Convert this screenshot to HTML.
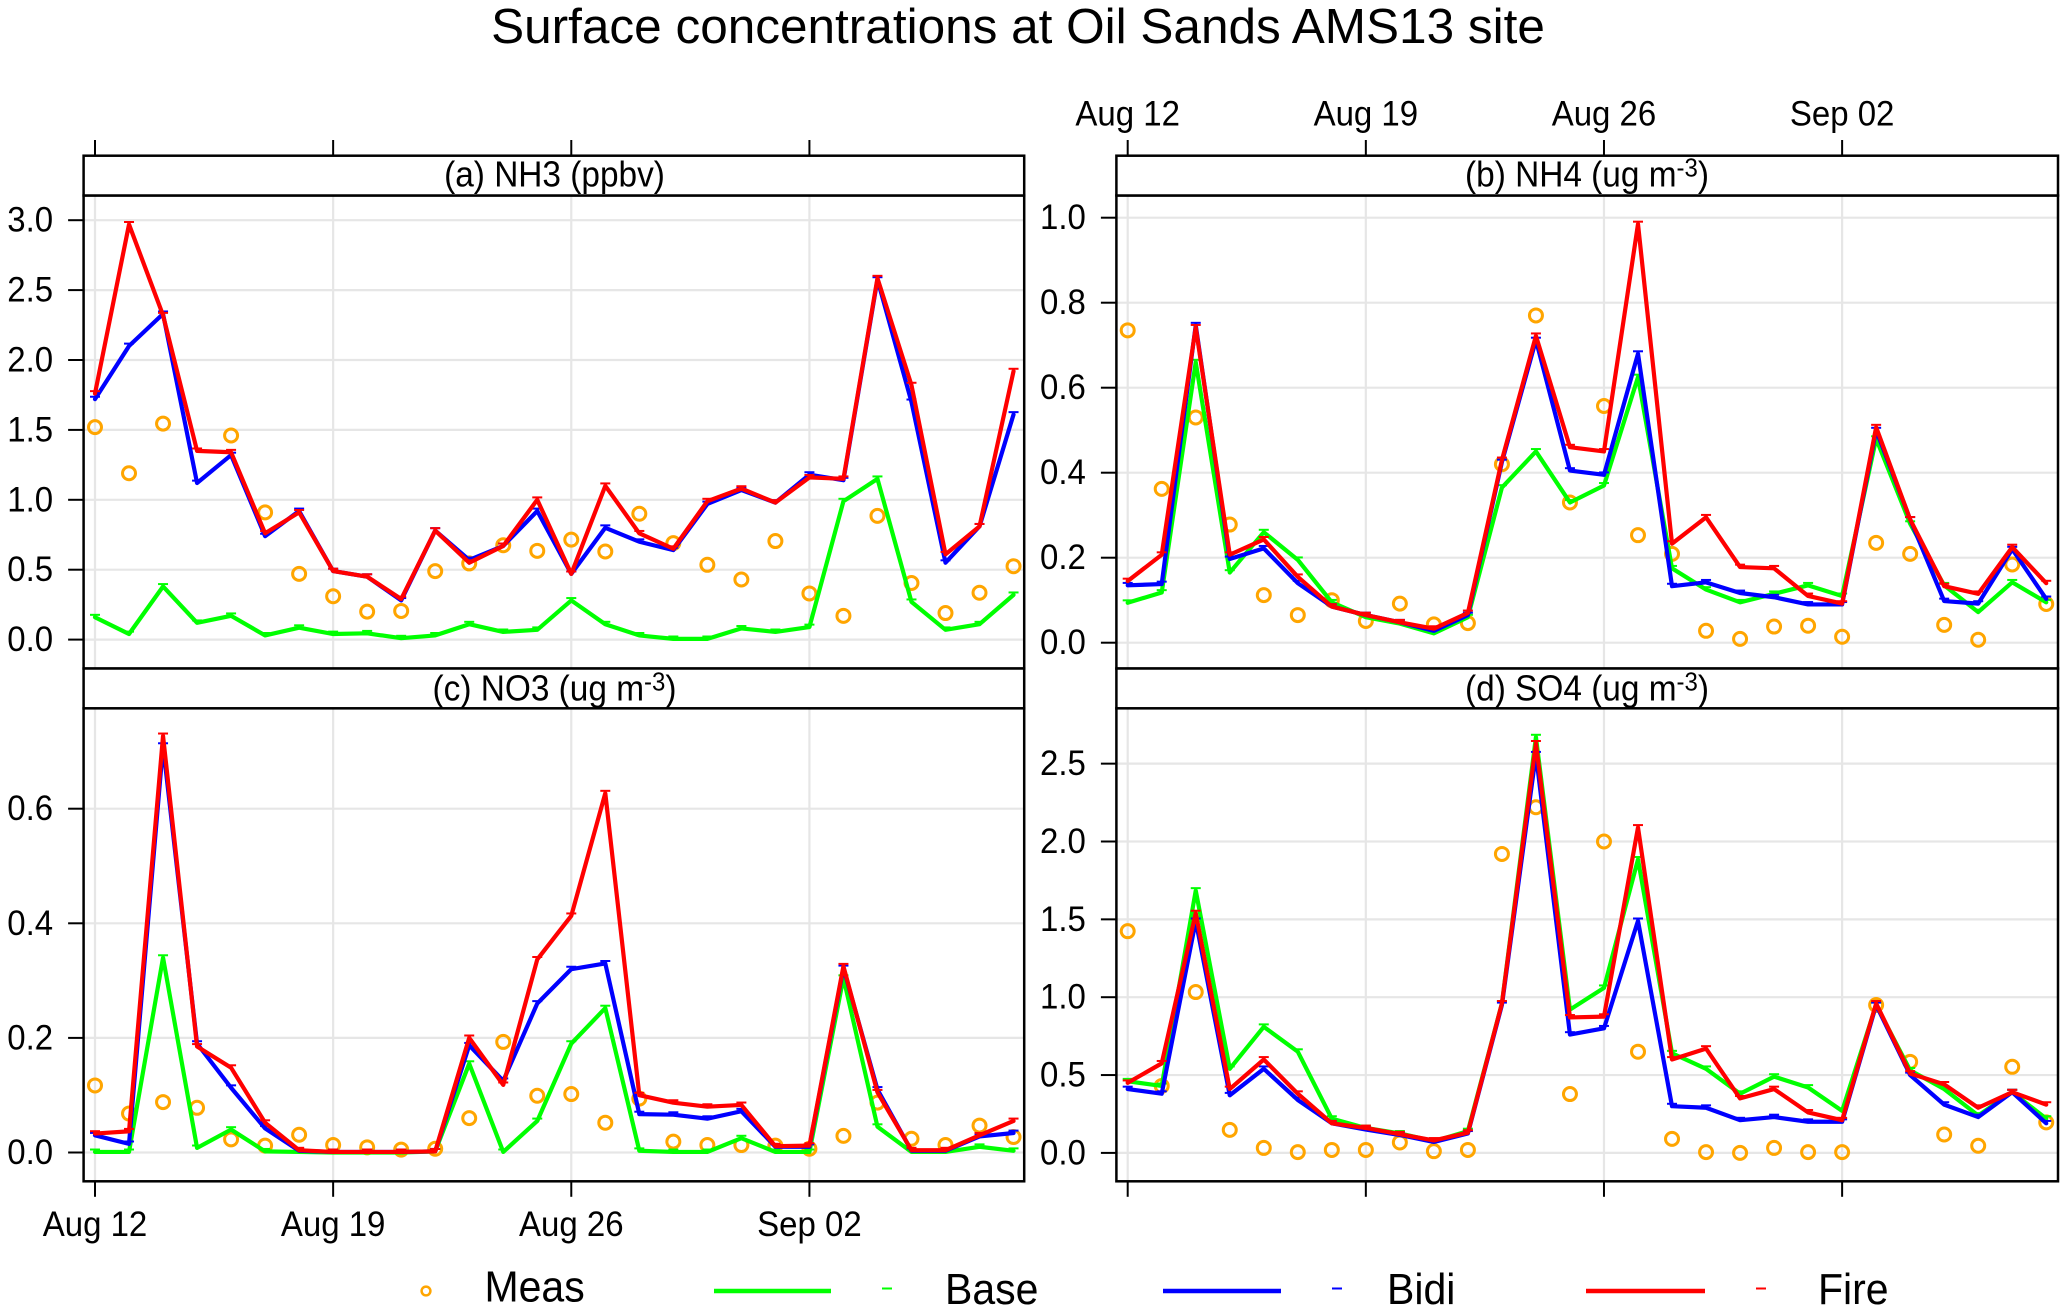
<!DOCTYPE html>
<html lang="en">
<head>
<meta charset="utf-8">
<title>Surface concentrations at Oil Sands AMS13 site</title>
<style>
html,body{margin:0;padding:0;background:#fff;}
svg{display:block;font-family:"Liberation Sans",Arial,sans-serif;}
</style>
</head>
<body>
<svg id="chart" xmlns="http://www.w3.org/2000/svg" width="2067" height="1315" viewBox="0 0 2067 1315">
<rect x="0" y="0" width="2067" height="1315" fill="#ffffff"/>
<text x="1018" y="43" font-size="49.5" text-anchor="middle" fill="#000">Surface concentrations at Oil Sands AMS13 site</text>

<g id="panel-a"></g>
<g id="panel-b"></g>
<g id="panel-c"></g>
<g id="panel-d"></g>

<rect x="83.6" y="155.7" width="940.6" height="39.8" fill="#fff" stroke="#000" stroke-width="2.5"/>
<text transform="translate(554.5 186.7) scale(1 1.08)" font-size="33.4" text-anchor="middle">(a) NH3 (ppbv)</text>
<rect x="1116.4" y="155.7" width="941.6" height="39.8" fill="#fff" stroke="#000" stroke-width="2.5"/>
<text transform="translate(1587 186.7) scale(1 1.08)" font-size="33.4" text-anchor="middle">(b) NH4 (ug m<tspan font-size="24" dy="-9.5">-3</tspan><tspan dy="9.5">)</tspan></text>
<rect x="83.6" y="668.5" width="940.6" height="39.8" fill="#fff" stroke="#000" stroke-width="2.5"/>
<text transform="translate(554.5 700.7) scale(1 1.08)" font-size="33.4" text-anchor="middle">(c) NO3 (ug m<tspan font-size="24" dy="-9.5">-3</tspan><tspan dy="9.5">)</tspan></text>
<rect x="1116.4" y="668.5" width="941.6" height="39.8" fill="#fff" stroke="#000" stroke-width="2.5"/>
<text transform="translate(1587 700.7) scale(1 1.08)" font-size="33.4" text-anchor="middle">(d) SO4 (ug m<tspan font-size="24" dy="-9.5">-3</tspan><tspan dy="9.5">)</tspan></text>

<g>
  <circle cx="426" cy="1291" r="4.4" fill="none" stroke="#ffa500" stroke-width="2.5"/>
  <text transform="translate(484.5 1301.5) scale(1 1.06)" font-size="41">Meas</text>
  <line x1="714" y1="1291" x2="831" y2="1291" stroke="#00ff00" stroke-width="4.5"/>
  <line x1="882" y1="1288.5" x2="892" y2="1288.5" stroke="#00ff00" stroke-width="2"/>
  <text transform="translate(945 1304) scale(1 1.06)" font-size="41">Base</text>
  <line x1="1163" y1="1291" x2="1281" y2="1291" stroke="#0000ff" stroke-width="4.5"/>
  <line x1="1332" y1="1288.5" x2="1342" y2="1288.5" stroke="#0000ff" stroke-width="2"/>
  <text transform="translate(1387 1304) scale(1 1.06)" font-size="41">Bidi</text>
  <line x1="1586" y1="1291" x2="1705" y2="1291" stroke="#ff0000" stroke-width="4.5"/>
  <line x1="1756" y1="1288.5" x2="1766" y2="1288.5" stroke="#ff0000" stroke-width="2"/>
  <text transform="translate(1818 1304) scale(1 1.06)" font-size="41">Fire</text>
</g>

<script>
// ---- shared categories and tick labels ----
var days = ["Aug 12","Aug 13","Aug 14","Aug 15","Aug 16","Aug 17","Aug 18","Aug 19","Aug 20","Aug 21","Aug 22","Aug 23","Aug 24","Aug 25","Aug 26","Aug 27","Aug 28","Aug 29","Aug 30","Aug 31","Sep 01","Sep 02","Sep 03","Sep 04","Sep 05","Sep 06","Sep 07","Sep 08"];
var xTickLabels = ["Aug 12","Aug 19","Aug 26","Sep 02"];

// ---- (a) NH3 ----
var nh3Ticks = [0.0,0.5,1.0,1.5,2.0,2.5,3.0];
var nh3Meas = [1.52,1.19,1.545,null,1.46,0.91,0.47,0.31,0.20,0.205,0.49,0.545,0.675,0.635,0.715,0.63,0.90,0.69,0.535,0.43,0.705,0.33,0.17,0.885,0.405,0.19,0.335,0.525];
var nh3Base = [0.16,0.04,0.38,0.12,0.17,0.03,0.085,0.04,0.045,0.01,0.03,0.11,0.055,0.07,0.28,0.11,0.03,0.005,0.005,0.08,0.055,0.09,0.99,1.15,0.27,0.07,0.11,0.32];
var nh3Bidi = [1.72,2.10,2.33,1.12,1.32,0.74,0.92,0.49,0.45,0.28,0.78,0.57,0.67,0.92,0.47,0.80,0.70,0.64,0.97,1.07,0.98,1.18,1.14,2.575,1.70,0.55,0.81,1.61];
var nh3Fire = [1.76,2.97,2.32,1.35,1.34,0.76,0.91,0.49,0.45,0.29,0.78,0.55,0.67,1.00,0.47,1.10,0.76,0.65,0.99,1.08,0.98,1.16,1.15,2.585,1.82,0.61,0.81,1.92];

// ---- (b) NH4 ----
var nh4Ticks = [0.0,0.2,0.4,0.6,0.8,1.0];
var nh4Meas = [0.735,0.362,0.53,0.278,0.112,0.065,0.10,0.051,0.092,0.043,0.046,0.42,0.77,0.33,0.557,0.253,0.209,0.028,0.009,0.038,0.04,0.014,0.235,0.209,0.042,0.007,0.184,0.091];
var nh4Base = [0.094,0.118,0.66,0.165,0.26,0.195,0.095,0.06,0.045,0.022,0.06,0.365,0.45,0.33,0.37,0.625,0.175,0.125,0.095,0.115,0.135,0.11,0.48,0.28,0.135,0.072,0.142,0.095];
var nh4Bidi = [0.135,0.138,0.747,0.197,0.222,0.14,0.085,0.065,0.048,0.028,0.065,0.425,0.712,0.405,0.395,0.68,0.133,0.142,0.117,0.107,0.09,0.09,0.50,0.29,0.098,0.092,0.22,0.103];
var nh4Fire = [0.145,0.207,0.742,0.207,0.243,0.155,0.085,0.065,0.048,0.033,0.07,0.43,0.722,0.46,0.45,0.985,0.233,0.295,0.178,0.175,0.11,0.092,0.507,0.29,0.133,0.115,0.225,0.14];

// ---- (c) NO3 ----
var no3Ticks = [0.0,0.2,0.4,0.6];
var no3Meas = [0.117,0.068,0.088,0.078,0.023,0.012,0.031,0.013,0.009,0.005,0.0065,0.06,0.193,0.099,0.102,0.052,0.094,0.019,0.013,0.013,0.012,0.0065,0.029,0.087,0.024,0.013,0.047,0.027];
var no3Base = [0.001,0.001,0.34,0.008,0.04,0.002,0.001,0,0,0,0.002,0.155,0.001,0.055,0.19,0.252,0.003,0.001,0.001,0.025,0.001,0.001,0.305,0.045,0.001,0.001,0.01,0.003];
var no3Bidi = [0.03,0.015,0.71,0.19,0.113,0.042,0.003,0.001,0.001,0.001,0.002,0.187,0.125,0.26,0.32,0.33,0.067,0.066,0.059,0.072,0.01,0.01,0.322,0.11,0.003,0.003,0.028,0.034];
var no3Fire = [0.033,0.037,0.727,0.185,0.148,0.052,0.004,0.001,0.001,0.001,0.002,0.2,0.118,0.337,0.413,0.627,0.1,0.087,0.08,0.083,0.011,0.012,0.325,0.105,0.004,0.004,0.03,0.055];

// ---- (d) SO4 ----
var so4Ticks = [0.0,0.5,1.0,1.5,2.0,2.5];
var so4Meas = [1.424,0.43,1.033,0.148,0.032,0.005,0.019,0.019,0.067,0.011,0.019,1.92,2.22,0.378,2.0,0.65,0.09,0.005,0,0.032,0.005,0.005,0.95,0.585,0.118,0.046,0.553,0.196];
var so4Base = [0.46,0.43,1.685,0.54,0.81,0.65,0.22,0.16,0.125,0.075,0.14,0.96,2.67,0.92,1.06,1.885,0.64,0.54,0.38,0.49,0.42,0.27,0.95,0.53,0.41,0.24,0.39,0.22];
var so4Bidi = [0.41,0.38,1.49,0.37,0.54,0.34,0.19,0.15,0.115,0.07,0.125,0.95,2.56,0.76,0.80,1.49,0.30,0.29,0.21,0.23,0.20,0.20,0.95,0.50,0.31,0.23,0.39,0.19];
var so4Fire = [0.45,0.575,1.54,0.41,0.60,0.38,0.19,0.16,0.12,0.08,0.13,0.96,2.63,0.87,0.875,2.09,0.60,0.67,0.35,0.41,0.26,0.21,0.96,0.51,0.44,0.29,0.39,0.31];

var SVGNS = "http://www.w3.org/2000/svg";
var DAY_PX = 34.02;

function make(tag, parent) {
  var el = document.createElementNS(SVGNS, tag);
  parent.appendChild(el);
  return el;
}

function drawPanel(groupId, key, layout, yTicks, meas, base, bidi, fire) {
  var g = document.getElementById(groupId);
  function xScale(i) { return layout.x0 + i * DAY_PX; }
  function yScale(v) { return layout.y0 - v * layout.perUnit; }

  var bg = make("rect", g);
  
  
  bg.setAttribute("x", layout.left);
  bg.setAttribute("y", layout.top);
  bg.setAttribute("width", layout.right - layout.left);
  bg.setAttribute("height", layout.bottom - layout.top);
  bg.setAttribute("fill", "#fff");

  // horizontal grid, y ticks, y labels
  yTicks.forEach(function (t) {
    var y = yScale(t);
    var gl = make("line", g);
    
    
    gl.setAttribute("x1", layout.left);
    gl.setAttribute("x2", layout.right);
    gl.setAttribute("y1", y);
    gl.setAttribute("y2", y);
    gl.setAttribute("stroke", "#e6e6e6");
    gl.setAttribute("stroke-width", "2.2");
    var tk = make("line", g);
    
    
    tk.setAttribute("x1", layout.left - 15.5);
    tk.setAttribute("x2", layout.left);
    tk.setAttribute("y1", y);
    tk.setAttribute("y2", y);
    tk.setAttribute("stroke", "#000");
    tk.setAttribute("stroke-width", "2");
    var lb = make("text", g);
    
    
    lb.setAttribute("transform", "translate(" + (layout.left - 30.5) + " " + (y + 11.5) + ") scale(1 1.07)");
    lb.setAttribute("font-size", "33");
    lb.setAttribute("text-anchor", "end");
    lb.textContent = t.toFixed(1);
  });

  // vertical grid, x ticks, x labels
  xTickLabels.forEach(function (label) {
    var x = xScale(days.indexOf(label));
    var gl = make("line", g);
    
    
    gl.setAttribute("x1", x);
    gl.setAttribute("x2", x);
    gl.setAttribute("y1", layout.top);
    gl.setAttribute("y2", layout.bottom);
    gl.setAttribute("stroke", "#e6e6e6");
    gl.setAttribute("stroke-width", "2.2");
    var tk = make("line", g);
    
    
    tk.setAttribute("x1", x);
    tk.setAttribute("x2", x);
    if (layout.ticksOnTop) {
      tk.setAttribute("y1", 140);
      tk.setAttribute("y2", 156);
    } else {
      tk.setAttribute("y1", layout.bottom);
      tk.setAttribute("y2", layout.bottom + 15.5);
    }
    tk.setAttribute("stroke", "#000");
    tk.setAttribute("stroke-width", "2");
    if (layout.labelY) {
      var lb = make("text", g);
      
      
      lb.setAttribute("transform", "translate(" + x + " " + layout.labelY + ") scale(1 1.08)");
      lb.setAttribute("font-size", "33");
      lb.setAttribute("text-anchor", "middle");
      lb.textContent = label;
    }
  });

  // measurements
  meas.forEach(function (v, i) {
    if (v === null) return;
    var c = make("circle", g);
    
    
    c.setAttribute("cx", xScale(i));
    c.setAttribute("cy", yScale(v));
    c.setAttribute("r", "6.5");
    c.setAttribute("fill", "none");
    c.setAttribute("stroke", "#ffa500");
    c.setAttribute("stroke-width", "3");
  });

  // model series
  function series(values, color, name) {
    var pts = values.map(function (v, i) {
      return xScale(i).toFixed(2) + "," + yScale(v).toFixed(2);
    }).join(" ");
    var pl = make("polyline", g);
    
    
    pl.setAttribute("points", pts);
    pl.setAttribute("fill", "none");
    pl.setAttribute("stroke", color);
    pl.setAttribute("stroke-width", "4.2");
    pl.setAttribute("stroke-linejoin", "round");
    pl.setAttribute("stroke-linecap", "round");
    values.forEach(function (v, i) {
      var d = make("line", g);
      
      
      d.setAttribute("x1", xScale(i) - 5);
      d.setAttribute("x2", xScale(i) + 5);
      d.setAttribute("y1", yScale(v) - 2.4);
      d.setAttribute("y2", yScale(v) - 2.4);
      d.setAttribute("stroke", color);
      d.setAttribute("stroke-width", "2");
    });
  }
  series(base, "#00ff00", "base");
  series(bidi, "#0000ff", "bidi");
  series(fire, "#ff0000", "fire");

  var fr = make("rect", g);
  
  
  fr.setAttribute("x", layout.left);
  fr.setAttribute("y", layout.top);
  fr.setAttribute("width", layout.right - layout.left);
  fr.setAttribute("height", layout.bottom - layout.top);
  fr.setAttribute("fill", "none");
  fr.setAttribute("stroke", "#000");
  fr.setAttribute("stroke-width", "2.5");
}

drawPanel("panel-a", "nh3",
  {left:83.6, right:1024.2, top:195.5, bottom:668.5, x0:95, y0:639.6, perUnit:139.8, ticksOnTop:true, labelY:0},
  nh3Ticks, nh3Meas, nh3Base, nh3Bidi, nh3Fire);
drawPanel("panel-b", "nh4",
  {left:1116.4, right:2058, top:195.5, bottom:668.5, x0:1127.7, y0:642.7, perUnit:425, ticksOnTop:true, labelY:125.7},
  nh4Ticks, nh4Meas, nh4Base, nh4Bidi, nh4Fire);
drawPanel("panel-c", "no3",
  {left:83.6, right:1024.2, top:708.3, bottom:1181.3, x0:95, y0:1152.5, perUnit:573, ticksOnTop:false, labelY:1236},
  no3Ticks, no3Meas, no3Base, no3Bidi, no3Fire);
drawPanel("panel-d", "so4",
  {left:1116.4, right:2058, top:708.3, bottom:1181.3, x0:1127.7, y0:1152.9, perUnit:155.7, ticksOnTop:false, labelY:0},
  so4Ticks, so4Meas, so4Base, so4Bidi, so4Fire);
</script>
</svg>
</body>
</html>
